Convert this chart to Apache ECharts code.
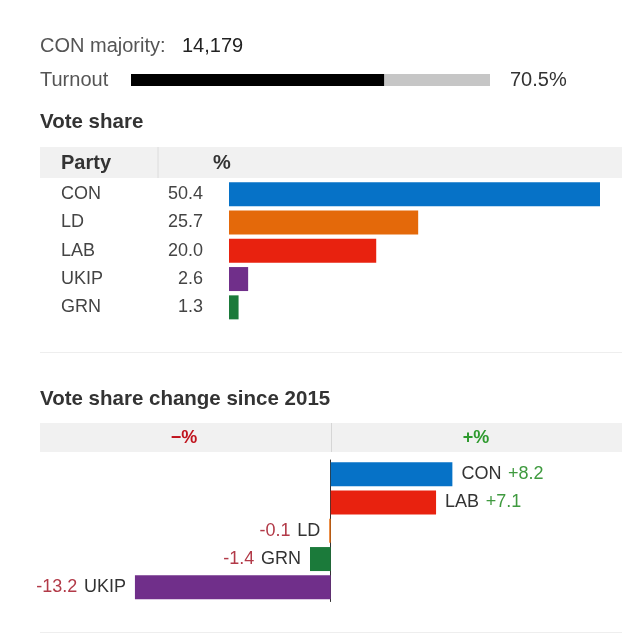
<!DOCTYPE html>
<html>
<head>
<meta charset="utf-8">
<script src="https://cdn.jsdelivr.net/npm/echarts@6/dist/echarts.min.js"></script>
<style>
  html, body { margin: 0; padding: 0; background: #fff; }
  #main { width: 640px; height: 641px; }
</style>
</head>
<body>
<div id="main"></div>
<script>
// result data
const majorityParty = 'CON';
const majority = 14179;
const turnout = 70.5;

const parties = ['CON', 'LD', 'LAB', 'UKIP', 'GRN'];
const shares = [50.4, 25.7, 20.0, 2.6, 1.3];

const changeParties = ['CON', 'LAB', 'LD', 'GRN', 'UKIP'];
const changes = [8.2, 7.1, -0.1, -1.4, -13.2];
const changeSince = 2015;

const partyColors = {
  CON: '#0672c7',
  LD: '#e4690a',
  LAB: '#e8220f',
  UKIP: '#702f8a',
  GRN: '#1b7a3a'
};

const FONT = '"Liberation Sans", Arial, sans-serif';
const txt = '#444';

let shareData = shares.map((v, i) => ({
  value: v,
  itemStyle: { color: partyColors[parties[i]] }
}));

let changeData = changes.map((v, i) => {
  let p = changeParties[i];
  let s = (v > 0 ? '+' : '') + v.toFixed(1);
  return {
    value: v,
    itemStyle: { color: partyColors[p] },
    label: {
      position: v >= 0 ? 'right' : 'left',
      formatter: v >= 0 ? '{p|' + p + '}  {g|' + s + '}' : '{r|' + s + '}  {p|' + p + '}'
    }
  };
});

let hidden = { show: false };

let option = {
  backgroundColor: '#fff',
  animation: false,
  textStyle: { fontFamily: FONT },
  grid: [
    { left: 131, top: 74, width: 359, height: 12 },
    { left: 229, top: 180, width: 371, height: 141.5 },
    { left: 40, top: 460, width: 580, height: 141.5 }
  ],
  xAxis: [
    { gridIndex: 0, type: 'value', min: 0, max: 100, show: false },
    { gridIndex: 1, type: 'value', min: 0, max: 50.4, show: false },
    { gridIndex: 2, type: 'value', min: -19.6, max: 19.5, axisLabel: hidden, axisLine: hidden, axisTick: hidden, splitLine: hidden }
  ],
  yAxis: [
    {
      gridIndex: 0, type: 'category', data: ['Turnout'],
      axisLine: hidden, axisTick: hidden,
      axisLabel: { align: 'left', margin: 91, fontSize: 20, color: '#555', fontFamily: FONT }
    },
    {
      gridIndex: 1, type: 'category', data: parties, inverse: true,
      axisLine: hidden, axisTick: hidden,
      axisLabel: {
        margin: 26, align: 'right',
        formatter: (name, i) => '{n|' + name + '}{v|' + shares[i].toFixed(1) + '}',
        rich: {
          n: { width: 92, align: 'left', fontSize: 18, color: txt, fontFamily: FONT },
          v: { width: 50, align: 'right', fontSize: 18, color: txt, fontFamily: FONT }
        }
      }
    },
    {
      gridIndex: 2, type: 'category', data: changeParties, inverse: true,
      axisTick: hidden, axisLabel: hidden,
      axisLine: { show: true, onZero: true, lineStyle: { color: '#333', width: 1 } }
    }
  ],
  series: [
    {
      type: 'bar', xAxisIndex: 0, yAxisIndex: 0, data: [turnout],
      barWidth: 12, itemStyle: { color: '#000' },
      showBackground: true, backgroundStyle: { color: '#c6c6c6' }
    },
    {
      type: 'bar', xAxisIndex: 1, yAxisIndex: 1, data: shareData,
      barWidth: 24
    },
    {
      type: 'bar', xAxisIndex: 2, yAxisIndex: 2, data: changeData,
      barWidth: 24,
      label: {
        show: true, distance: 9,
        rich: {
          p: { fontSize: 18, color: '#333', fontFamily: FONT },
          g: { fontSize: 18, color: '#3f9a3f', fontFamily: FONT },
          r: { fontSize: 18, color: '#b23a48', fontFamily: FONT }
        }
      }
    }
  ],
  graphic: [
    { type: 'text', left: 40, top: 36, style: { text: majorityParty + ' majority:', fontSize: 20, fill: '#555', fontFamily: FONT } },
    { type: 'text', left: 182, top: 36, style: { text: majority.toLocaleString('en-GB'), fontSize: 20, fill: '#222', fontFamily: FONT } },
    { type: 'text', left: 510, top: 70, style: { text: turnout.toFixed(1) + '%', fontSize: 20, fill: '#333', fontFamily: FONT } },
    { type: 'text', left: 40, top: 112, style: { text: 'Vote share', fontSize: 20.5, fontWeight: 'bold', fill: '#333', fontFamily: FONT } },
    { type: 'rect', left: 40, top: 147, shape: { width: 582, height: 31 }, style: { fill: '#f1f1f1' }, z: -1 },
    { type: 'line', shape: { x1: 158, y1: 147, x2: 158, y2: 178 }, style: { stroke: '#dcdcdc', lineWidth: 1 } },
    { type: 'text', left: 61, top: 153, style: { text: 'Party', fontSize: 20, fontWeight: 'bold', fill: '#333', fontFamily: FONT } },
    { type: 'text', left: 213, top: 153, style: { text: '%', fontSize: 20, fontWeight: 'bold', fill: '#333', fontFamily: FONT } },
    { type: 'line', shape: { x1: 40, y1: 352.5, x2: 622, y2: 352.5 }, style: { stroke: '#eeeeee', lineWidth: 1 } },
    { type: 'text', left: 40, top: 389, style: { text: 'Vote share change since ' + changeSince, fontSize: 20.5, fontWeight: 'bold', fill: '#333', fontFamily: FONT } },
    { type: 'rect', left: 40, top: 423, shape: { width: 582, height: 29 }, style: { fill: '#f1f1f1' }, z: -1 },
    { type: 'line', shape: { x1: 331.5, y1: 423, x2: 331.5, y2: 452 }, style: { stroke: '#d6d6d6', lineWidth: 1 } },
    { type: 'text', x: 184, y: 438, style: { text: '\u2212%', fontSize: 18, fontWeight: 'bold', fill: '#c0141e', align: 'center', verticalAlign: 'middle', fontFamily: FONT } },
    { type: 'text', x: 476, y: 438, style: { text: '+%', fontSize: 18, fontWeight: 'bold', fill: '#2e9a2e', align: 'center', verticalAlign: 'middle', fontFamily: FONT } },
    { type: 'line', shape: { x1: 40, y1: 632.5, x2: 622, y2: 632.5 }, style: { stroke: '#eeeeee', lineWidth: 1 } }
  ]
};

let myChart = echarts.init(document.getElementById('main'));
myChart.setOption(option);
</script>
</body>
</html>
